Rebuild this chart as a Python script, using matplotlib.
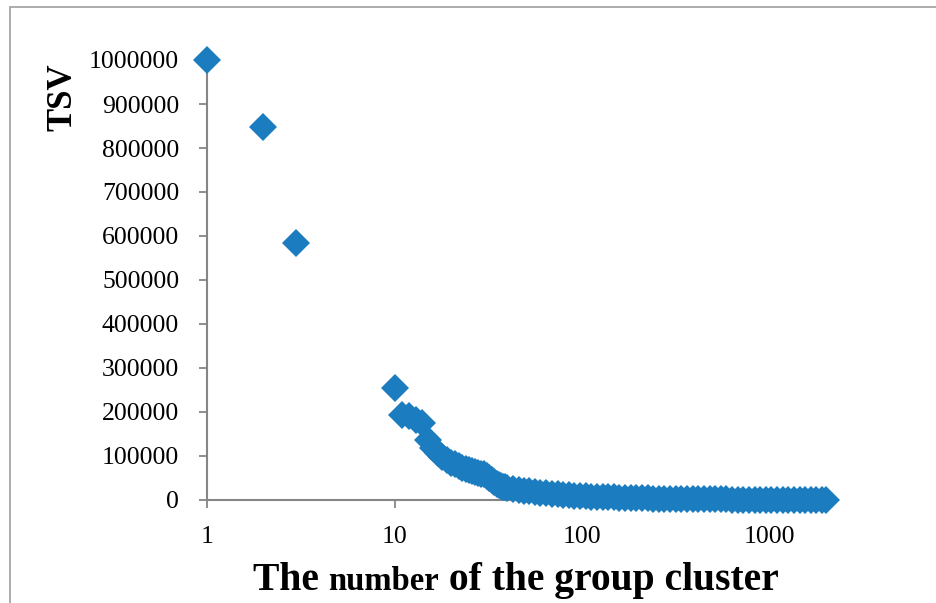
import matplotlib
matplotlib.use("Agg")
import matplotlib.pyplot as plt
from matplotlib.patches import Rectangle

# values
cluster_head = [1, 2, 3, 10, 11, 12, 13, 14]
tsv_head = [1000000, 848000, 584000, 254000, 194000, 190000, 182000, 176000]

cluster_mid = [15, 16, 17, 18, 19, 20, 21, 22, 23, 24, 25, 26, 27, 28, 29,
               30, 31, 32, 33, 34, 35, 36, 37, 38, 39]
tsv_mid = [136000, 118000, 106000, 97000, 90000, 85000, 81000, 77000, 73000,
           70000, 68000, 66000, 64000, 62000, 60000, 58000, 55000, 50000,
           45000, 41000, 37000, 34000, 32000, 30000, 28500]

cluster_tail = [40, 43, 46, 49, 52, 56, 60, 64, 69, 74, 79, 85, 91, 98, 105,
                112, 120, 129, 138, 148, 158, 170, 182, 195, 209, 224, 240,
                257, 275, 295, 316, 339, 363, 389, 417, 447, 479, 513, 550,
                589, 631, 676, 724, 776, 832, 891, 955, 1023, 1096, 1175,
                1259, 1349, 1445, 1549, 1660, 1778, 1905, 2000]
tsv_tail = [27000, 25000, 23000, 21000, 19500, 18000, 16000, 15000, 13800,
            12800, 11800, 10800, 10000, 9200, 8500, 7900, 7300, 6700, 6200,
            5800, 5400, 5000, 4600, 4300, 4000, 3700, 3400, 3100, 2900, 2700,
            2500, 2300, 2100, 1950, 1800, 1650, 1500, 1400, 1300, 1200, 1100,
            1000, 900, 820, 750, 680, 620, 560, 500, 450, 400, 350, 300, 250,
            200, 150, 100, 50]

x_ticks = [1, 10, 100, 1000]
y_ticks = list(range(0, 1000001, 100000))

blue = "#1b7dc0"
grey = "#868686"
serif = ["Liberation Serif", "DejaVu Serif"]

plt.rcParams["font.family"] = serif

fig = plt.figure(figsize=(9.37, 6.03), dpi=100)
ax = fig.add_axes([207 / 937, 103 / 603, 619 / 937, 440 / 603])

xs = cluster_head + cluster_mid + cluster_tail
ys = tsv_head + tsv_mid + tsv_tail
ax.plot(xs, ys, linestyle="none", marker="D", markersize=14.4,
        color=blue, markeredgewidth=0, clip_on=False, zorder=3)

ax.set_xscale("log")
ax.set_xlim(1, 2000)
ax.set_ylim(0, 1000000)
ax.set_xticks(x_ticks)
ax.set_xticklabels([str(v) for v in x_ticks])
ax.xaxis.set_minor_locator(matplotlib.ticker.NullLocator())
ax.set_yticks(y_ticks)
ax.set_yticklabels([str(v) for v in y_ticks])

for s in ["top", "right"]:
    ax.spines[s].set_visible(False)
for s in ["left", "bottom"]:
    ax.spines[s].set_color(grey)
    ax.spines[s].set_linewidth(1.5)
ax.tick_params(axis="both", which="major", direction="out", length=6,
               width=1.3, color=grey, labelsize=18.5, labelcolor="black")
ax.tick_params(axis="y", pad=14)
ax.tick_params(axis="x", pad=13)

# y label
fig.text(63 / 937, 1 - 97 / 603, "TSV", rotation=90, fontsize=25,
         fontweight="bold", ha="center", va="center")

# x label, "number" in a smaller size like the original
pieces = [("The ", 28.5), ("number", 23.5), (" of the group cluster", 28.5)]
renderer = fig.canvas.get_renderer()
texts = []
x = 0.0
for txt, size in pieces:
    t = fig.text(x, 1 - 590 / 603, txt, fontsize=size, fontweight="bold",
                 ha="left", va="baseline")
    w = t.get_window_extent(renderer).width / fig.bbox.width
    texts.append((t, x))
    x += w
start = 516 / 937 - x / 2
for t, off in texts:
    t.set_x(start + off)

# outer chart border (cropped on right/bottom)
fig.add_artist(Rectangle((10 / 937, -0.1), 1.2, 1.1 - 7 / 603,
                         transform=fig.transFigure, fill=False,
                         edgecolor="#a6a6a6", linewidth=1.3))

fig.savefig("out.png", dpi=100, facecolor="white")
